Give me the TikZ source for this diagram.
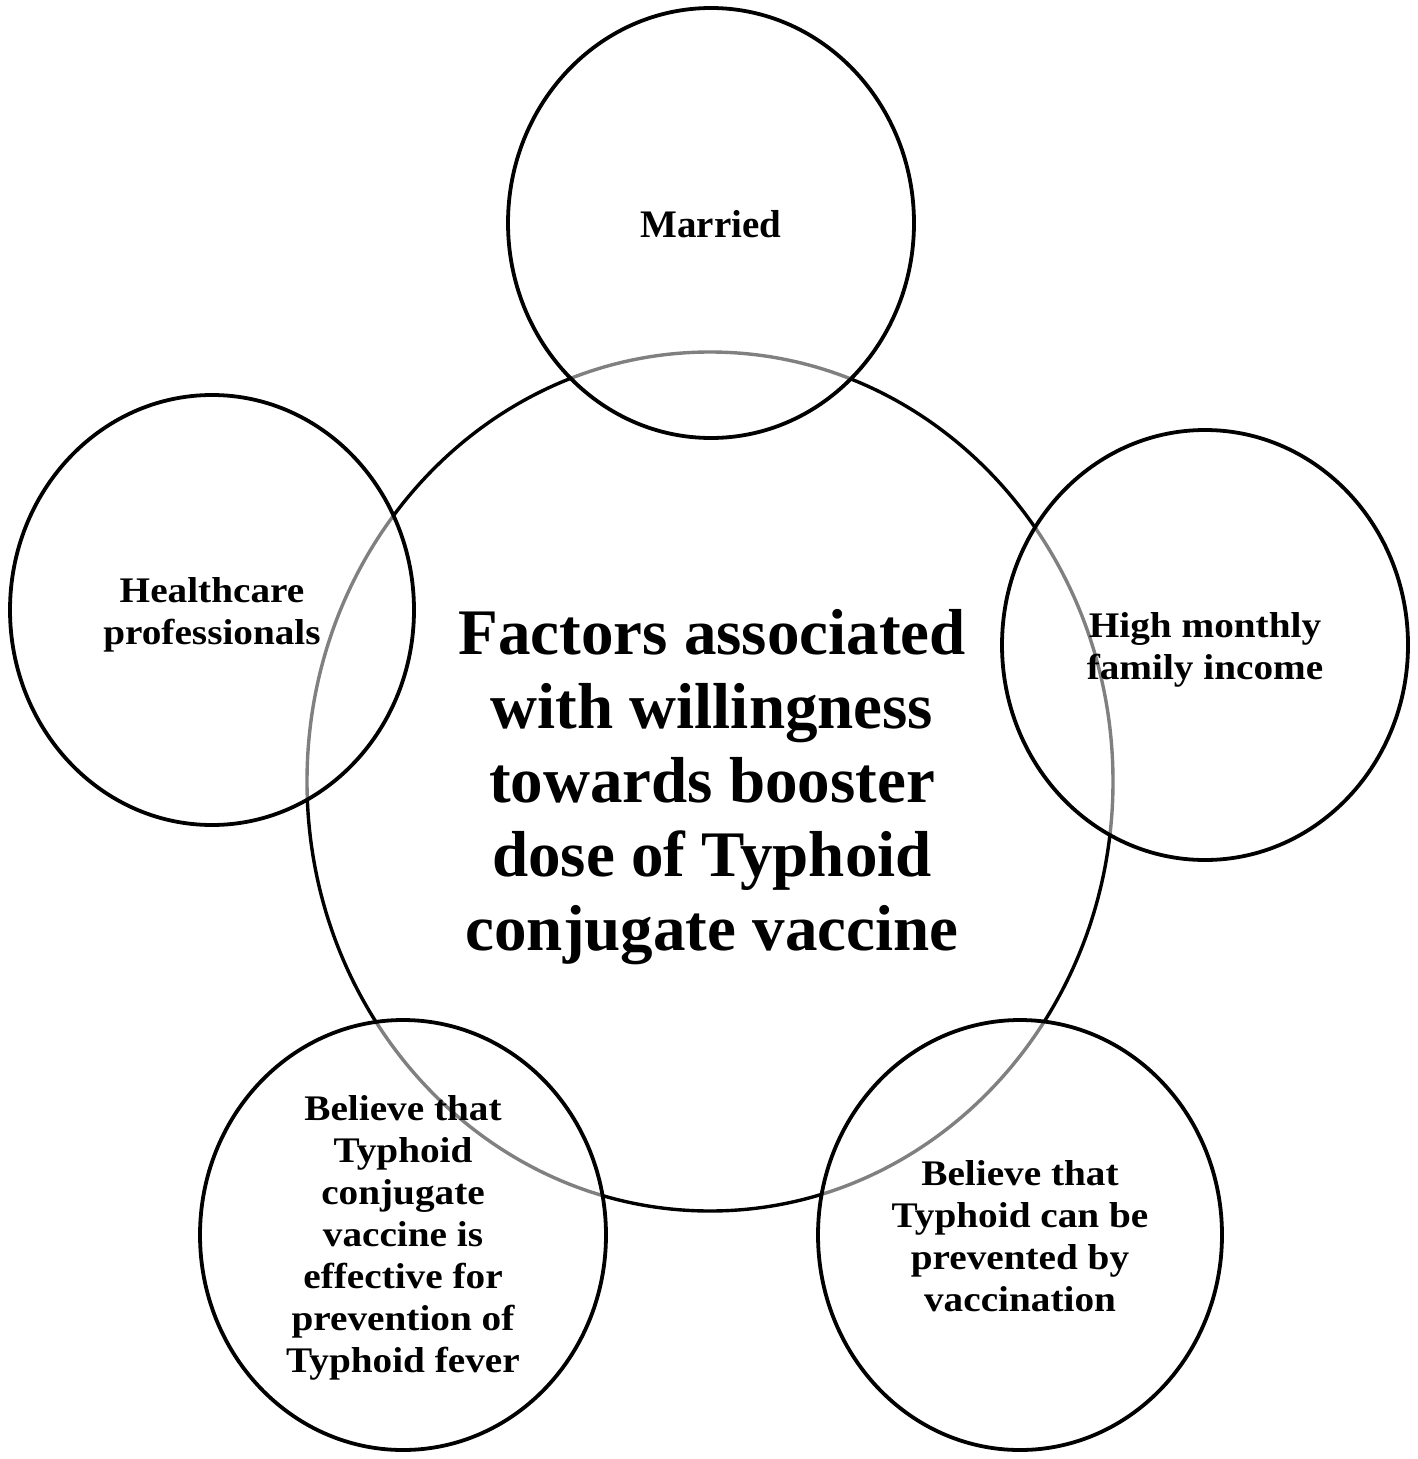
\documentclass[tikz,border=0pt]{standalone}
\usepackage{fontspec}
\setmainfont{Liberation Serif}
\newfontfamily\widefont[FakeStretch=1.09]{Liberation Serif}
\begin{document}
\begin{tikzpicture}[x=1bp,y=-1bp,
  ring/.style={draw=black,line width=3.4bp},
  sat/.style={draw=black,line width=3.8bp,fill=white,fill opacity=0.5},
  big/.style={align=center,font=\bfseries\fontsize{65bp}{74bp}\selectfont,inner sep=0pt},
  small/.style={align=center,font=\widefont\bfseries\fontsize{36bp}{42bp}\selectfont,inner sep=0pt},
]
\useasboundingbox (0,0) rectangle (1418,1459);
\fill[white] (0,0) rectangle (1418,1459);
% central ellipse
\draw[ring] (710,781.5) ellipse [x radius=403, y radius=429.5];
% satellite ellipses
\draw[sat] (711,223) ellipse [x radius=203, y radius=215];
\draw[sat] (212,610) ellipse [x radius=202, y radius=215];
\draw[sat] (1205,645) ellipse [x radius=203, y radius=215];
\draw[sat] (403,1235) ellipse [x radius=203, y radius=215];
\draw[sat] (1020,1235) ellipse [x radius=202, y radius=215];
% texts
\node[big] (center) at (712,787) {Factors associated\\with willingness\\towards booster\\dose of Typhoid\\conjugate vaccine};
\node[small,font=\bfseries\fontsize{39bp}{44bp}\selectfont] (married) at (711,224) {Married};
\node[small] (hc) at (212,615) {Healthcare\\professionals};
\node[small] (inc) at (1205,650) {High monthly\\family income};
\node[small] (tcv) at (403,1238) {Believe that\\Typhoid\\conjugate\\vaccine is\\effective for\\prevention of\\Typhoid fever};
\node[small] (vac) at (1020,1236) {Believe that\\Typhoid can be\\prevented by\\vaccination};
\end{tikzpicture}
\end{document}
